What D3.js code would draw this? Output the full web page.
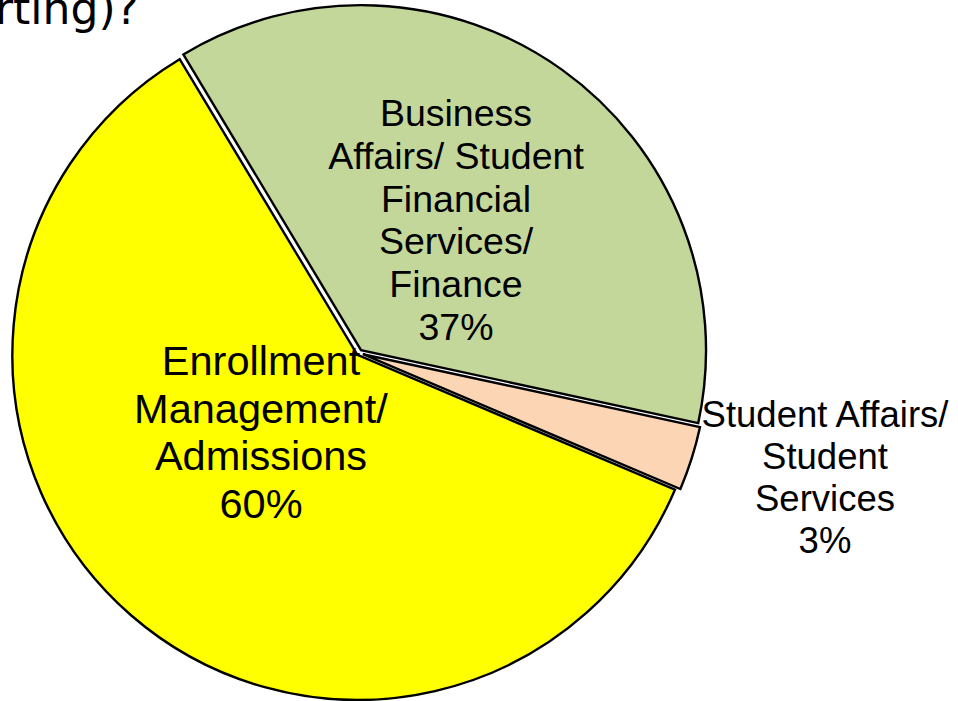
<!DOCTYPE html>
<html>
<head>
<meta charset="utf-8">
<script src="https://cdn.jsdelivr.net/npm/d3@7"></script>
<style>
  html, body { margin: 0; padding: 0; background: #ffffff; overflow: hidden; }
  svg { display: block; }
</style>
</head>
<body>
<svg id="chart" width="958" height="701"></svg>
<script>
// Departments handling the function, share of responses (%)
const categories = [
  "Business Affairs/ Student Financial Services/ Finance",
  "Student Affairs/ Student Services",
  "Enrollment Management/ Admissions"
];
const values = [37, 3, 60];
const sliceColors = ["#c4d79b", "#fcd5b5", "#ffff00"];
// Label lines as they are broken inside/next to the pie
const labelLines = [
  ["Business", "Affairs/ Student", "Financial", "Services/", "Finance", "37%"],
  ["Student Affairs/", "Student", "Services", "3%"],
  ["Enrollment", "Management/", "Admissions", "60%"]
];
const titleText = "rting)?";

const svg = d3.select("#chart");
const cx = 359, cy = 353, R = 345;

// Pie starts at the upper-left edge of the green slice and runs clockwise
const start = -31 * Math.PI / 180;
const pie = d3.pie().sort(null).value(d => d)
  .startAngle(start)
  .endAngle(start + 2 * Math.PI);
const arcs = pie(values);
const arc = d3.arc().innerRadius(0).outerRadius(R);

// Small outward pull of each slice so the borders separate
const explode = [3.5, 4, 2.5];

const g = svg.append("g").attr("transform", `translate(${cx},${cy})`);

g.selectAll("path.slice")
  .data(arcs)
  .join("path")
  .attr("class", "slice")
  .attr("d", arc)
  .attr("fill", (d, i) => sliceColors[i])
  .attr("stroke", "#000")
  .attr("stroke-width", 2.4)
  .attr("stroke-linejoin", "miter")
  .attr("transform", (d, i) => {
    const a = (d.startAngle + d.endAngle) / 2;
    return `translate(${Math.sin(a) * explode[i]},${-Math.cos(a) * explode[i]})`;
  });

// Labels: position, font size and line spacing for each slice
const labelSpec = [
  { x: 456, y: 126, size: 37.5, lh: 42.8 },
  { x: 825, y: 427, size: 36.5, lh: 42 },
  { x: 261, y: 375, size: 41.5, lh: 47.5 }
];

labelSpec.forEach((s, i) => {
  const t = svg.append("text")
    .attr("text-anchor", "middle")
    .attr("font-family", "Liberation Sans, Arial, sans-serif")
    .attr("font-size", s.size)
    .attr("fill", "#000");
  labelLines[i].forEach((line, k) => {
    t.append("tspan")
      .attr("x", s.x)
      .attr("y", s.y + k * s.lh)
      .text(line);
  });
});

// Title fragment at the top-left corner
svg.append("text")
  .attr("x", -5)
  .attr("y", 24)
  .attr("font-family", "DejaVu Sans, sans-serif")
  .attr("font-size", 44)
  .attr("fill", "#000")
  .text(titleText);
</script>
</body>
</html>
